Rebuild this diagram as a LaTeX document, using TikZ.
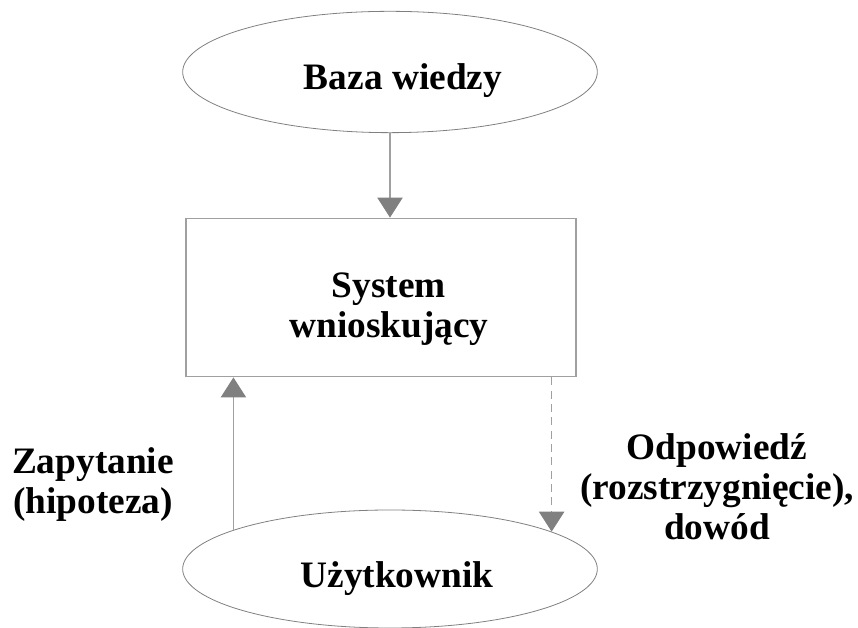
\documentclass[tikz,border=0pt]{standalone}
\usepackage{fontspec}
\setmainfont{Liberation Serif}
\usetikzlibrary{shapes.geometric,arrows.meta}

\definecolor{linegray}{RGB}{160,160,160}
\definecolor{tipgray}{RGB}{128,128,128}

\begin{document}
\begin{tikzpicture}[x=0.75pt,y=0.75pt,
    every node/.style={font=\fontsize{28pt}{30pt}\selectfont\bfseries,align=center},
    oval/.style={ellipse,draw=tipgray,line width=0.6pt,inner sep=0pt,minimum width=311pt},
    flow/.style={draw=linegray,line width=0.9pt,-{Triangle[width=19pt,length=15pt,color=tipgray,fill=tipgray]}}]
    \useasboundingbox (0,0) rectangle (858,628);
    % Shapes
    \node[oval,minimum height=91pt] (base) at (390,556) {};
    \node[draw=linegray,line width=0.9pt,minimum width=292.5pt,minimum height=119pt] (sys) at (381,330.5) {};
    \node[oval,minimum height=88.5pt] (user) at (390,59) {};
    % Texts inside the shapes
    \node[anchor=base] (basetxt) at (403,538) {Baza wiedzy};
    \node (systxt) at (389,319) {System\\wnioskujący};
    \node[anchor=base] (usertxt) at (397,40) {Użytkownik};
    % Arrows
    \draw[flow] (base.south) -- (base.south |- sys.north);
    \draw[flow] (user.166.6) -- (user.166.6 |- sys.south);
    \draw[flow,dash pattern=on 6pt off 4pt] (user.13.3 |- sys.south) -- (user.13.3);
    % Labels
    \node (ask) at (93,143.5) {Zapytanie\\(hipoteza)};
    \node (answer) at (717,141) {Odpowiedź\\(rozstrzygnięcie),\\dowód};
\end{tikzpicture}
\end{document}
